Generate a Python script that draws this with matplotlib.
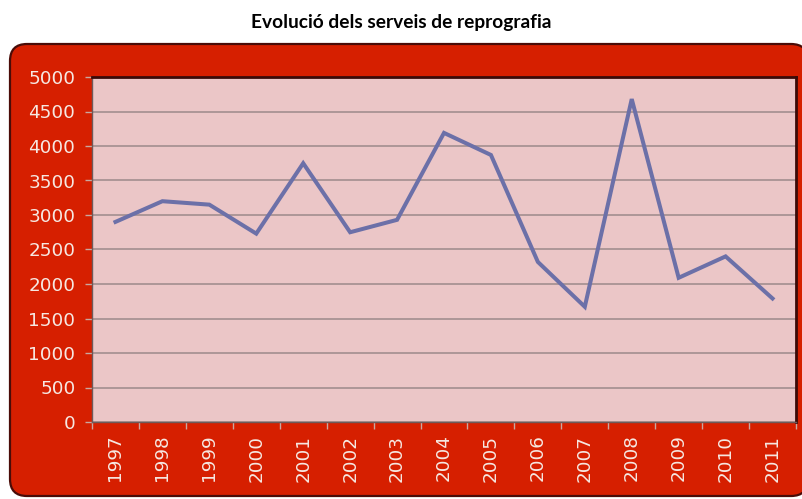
import matplotlib.pyplot as plt
import numpy as np
from matplotlib.patches import FancyBboxPatch

years = ['1997', '1998', '1999', '2000', '2001', '2002', '2003', '2004',
         '2005', '2006', '2007', '2008', '2009', '2010', '2011']
serveis = [2900, 3200, 3150, 2730, 3750, 2750, 2930, 4190,
           3870, 2320, 1670, 4680, 2090, 2400, 1790]
y_ticks = [0, 500, 1000, 1500, 2000, 2500, 3000, 3500, 4000, 4500, 5000]

RED = '#D61F00'
PINK = '#EBC6C7'
LINE = '#6C70A8'
LABEL = '#F6E8E2'


def main():
  fig = plt.figure(figsize=(8.02, 4.99), dpi=100)
  fig.patch.set_facecolor('white')

  # red rounded frame behind the chart
  frame = FancyBboxPatch(
    (0.10, 0.03), 7.98, 4.52,
    boxstyle='round,pad=0,rounding_size=0.17',
    transform=fig.dpi_scale_trans,
    facecolor=RED, edgecolor='#4A0C08', linewidth=1.6, zorder=-1
  )
  fig.patches.append(frame)

  fig.text(0.5, 0.955, 'Evolució dels serveis de reprografia',
           ha='center', va='center', fontsize=13.8, fontweight='bold',
           family='Lato', color='black')

  ax = fig.add_axes([92 / 802, 77 / 499, 704 / 802, 345 / 499])
  ax.set_zorder(2)
  ax.set_facecolor(PINK)

  x = np.arange(len(years))
  ax.plot(x, serveis, color=LINE, linewidth=2.9, solid_joinstyle='miter', zorder=3)

  ax.set_xlim(-0.5, len(years) - 0.5)
  ax.set_ylim(0, 5000)
  ax.set_yticks(y_ticks)
  ax.set_yticklabels([str(v) for v in y_ticks])
  ax.yaxis.grid(True, color='#A89393', linewidth=1.3)
  ax.set_axisbelow(True)

  # labels at the category centers, tick marks between categories
  ax.set_xticks(x)
  ax.set_xticklabels(years, rotation=90)
  ax.set_xticks(np.arange(-0.5, len(years)), minor=True)
  ax.tick_params(axis='x', which='major', length=0, pad=9,
                 labelsize=13.2, labelcolor=LABEL)
  ax.tick_params(axis='x', which='minor', length=5, width=1, color='#C9A8A0')
  ax.tick_params(axis='y', length=5, width=1, color='#C9A8A0', pad=7,
                 labelsize=13.2, labelcolor=LABEL)

  for side in ['left', 'bottom']:
    ax.spines[side].set_color('#6E5A5A')
    ax.spines[side].set_linewidth(1.0)
  for side in ['top', 'right']:
    ax.spines[side].set_color('#3A0A08')
    ax.spines[side].set_linewidth(2.0)

  plt.savefig('out.png', dpi=100)


if __name__ == '__main__':
  main()
